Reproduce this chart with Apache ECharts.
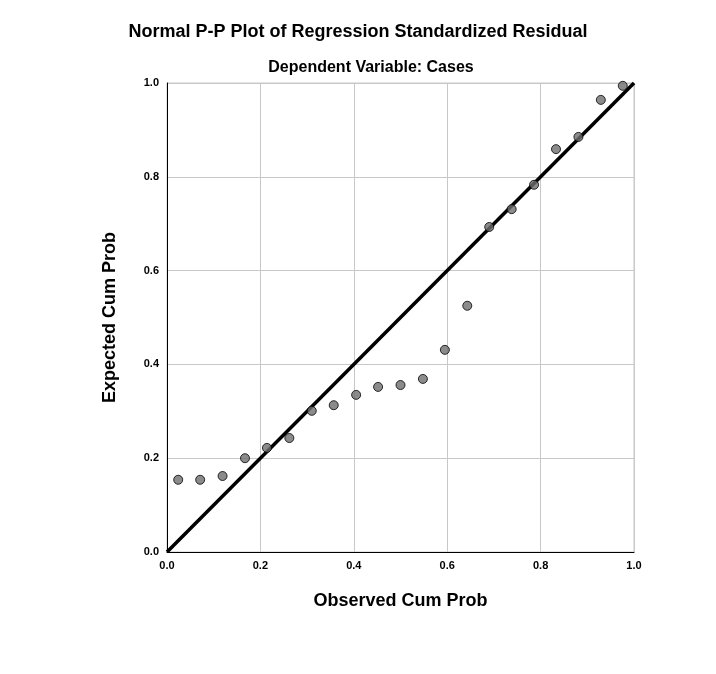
<!DOCTYPE html>
<html><head><meta charset="utf-8">
<script src="https://cdn.jsdelivr.net/npm/echarts@6/dist/echarts.min.js"></script>
<style>html,body{margin:0;padding:0;background:#fff}#c{width:716px;height:674px}</style>
</head><body><div id="c"></div>
<script>
const observed = [0.024,0.071,0.119,0.167,0.214,0.262,0.310,0.357,0.405,0.452,0.500,0.548,0.595,0.643,0.690,0.738,0.786,0.833,0.881,0.929,0.976];
const expected = [0.154,0.154,0.162,0.200,0.222,0.243,0.301,0.313,0.335,0.352,0.356,0.369,0.431,0.525,0.693,0.731,0.783,0.859,0.885,0.964,0.994];
const refLine = [[0,0],[1,1]];
const chart = echarts.init(document.getElementById('c'));
const font = 'Liberation Sans, Arial, sans-serif';
const axisCommon = {
  min:0,max:1,interval:0.2,
  axisLine:{show:true,lineStyle:{color:'#000',width:1}},
  axisTick:{show:false},
  splitLine:{show:true,lineStyle:{color:'#c8c8c8',width:1}},
  axisLabel:{formatter:v=>v.toFixed(1),color:'#000',fontWeight:'bold',fontSize:11,fontFamily:font},
  nameLocation:'middle',
  nameTextStyle:{color:'#000',fontWeight:'bold',fontSize:18,fontFamily:font}
};
chart.setOption({
  animation:false,
  title:[
    {text:'Normal P-P Plot of Regression Standardized Residual',left:'center',top:18,textStyle:{fontSize:18,fontWeight:'bold',color:'#000',fontFamily:font}},
    {text:'Dependent Variable: Cases',left:366,textAlign:'center',top:55,textStyle:{fontSize:16,fontWeight:'bold',color:'#000',fontFamily:font}}
  ],
  grid:{left:167,right:82,top:83,bottom:122,show:true,borderColor:'#c8c8c8',borderWidth:1},
  xAxis:Object.assign({},axisCommon,{type:'value',name:'Observed Cum Prob',nameGap:40}),
  yAxis:Object.assign({},axisCommon,{type:'value',name:'Expected Cum Prob',nameGap:48}),
  series:[
    {type:'line',data:refLine,symbol:'none',lineStyle:{color:'#000',width:3.5},z:2},
    {type:'scatter',data:observed.map((x,i)=>[x,expected[i]]),symbolSize:9,
     itemStyle:{color:'#6e6e6e',borderColor:'#000',borderWidth:1},z:3}
  ]
});
</script></body></html>
